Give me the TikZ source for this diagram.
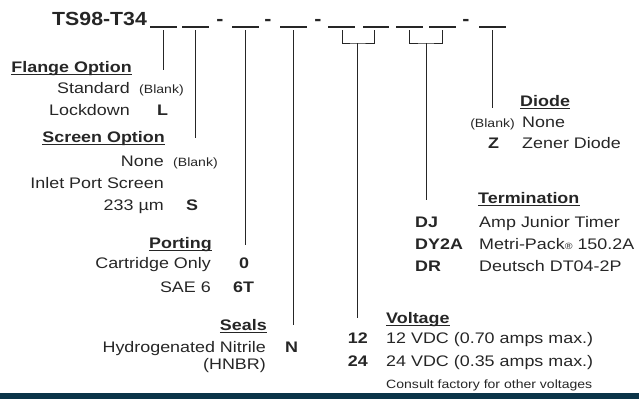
\documentclass[tikz,border=0pt]{standalone}
\usepackage{fontspec}
\setmainfont{Liberation Sans}
\definecolor{ink}{RGB}{38,38,38}
\definecolor{barblue}{RGB}{11,52,72}
\tikzset{
  lbl/.style={inner sep=0pt, text=ink, xscale=1.17, font=\fontsize{15.3}{18}\selectfont},
  code/.style={lbl, font=\fontsize{15.3}{18}\selectfont\bfseries},
  head/.style={code},
  small/.style={lbl, font=\fontsize{12}{14}\selectfont},
  ttl/.style={inner sep=0pt, text=ink, xscale=1.12, font=\fontsize{19}{22}\selectfont\bfseries},
  wire/.style={draw=ink, line width=0.9pt},
  blank/.style={draw=ink, line width=1.2pt},
  uline/.style={draw=ink, line width=1pt},
}
\begin{document}
\begin{tikzpicture}[x=1pt, y=-1pt]
\useasboundingbox (0,0) rectangle (639,399);

% Part number with blanks
\node[ttl, anchor=base west] (pn) at (52,25) {TS98-T34};
\foreach \a/\b in {150/177, 182/209, 232/259, 280/307, 328/355, 363/389, 396/423, 429/456, 479/506}
    \draw[blank] (\a,27) -- (\b,27);
\foreach \x [count=\i] in {220, 268, 318, 466}
    \node[ttl, anchor=base] (dash\i) at (\x,25) {-};

% Connector ends
\coordinate (tfl) at (163.5,30);  \coordinate (efl) at (163.5,70);
\coordinate (tsc) at (195.5,30);  \coordinate (esc) at (195.5,138);
\coordinate (tpo) at (245.5,30);  \coordinate (epo) at (245.5,245);
\coordinate (tse) at (293.5,30);  \coordinate (ese) at (293.5,325);
\coordinate (tdi) at (492.5,30);  \coordinate (edi) at (492.5,108);
\coordinate (va) at (342,30);  \coordinate (vb) at (374,30);
\coordinate (vm) at (357,43);  \coordinate (evo) at (357,318);
\coordinate (ta) at (409.5,30);  \coordinate (tb) at (442.5,30);
\coordinate (tm) at (426,43);  \coordinate (ete) at (426,200);

\draw[wire] (tfl) -- (efl);
\draw[wire] (tsc) -- (esc);
\draw[wire] (tpo) -- (epo);
\draw[wire] (tse) -- (ese);
\draw[wire] (tdi) -- (edi);
\draw[wire] (va) |- (vm) -| (vb);
\draw[wire] (vm) -- (evo);
\draw[wire] (ta) |- (tm) -| (tb);
\draw[wire] (tm) -- (ete);

% Flange option
\node[head, anchor=base east] (fl) at (132,72) {Flange Option};
\node[lbl, anchor=base east] (fl1) at (130,93) {Standard};
\node[small, anchor=base west] (fl1c) at (139,93) {(Blank)};
\node[lbl, anchor=base east] (fl2) at (130,115) {Lockdown};
\node[code, anchor=base west] (fl2c) at (157,115) {L};

% Screen option
\node[head, anchor=base east] (sc) at (165,142) {Screen Option};
\node[lbl, anchor=base east] (sc1) at (164,166) {None};
\node[small, anchor=base west] (sc1c) at (173,166) {(Blank)};
\node[lbl, anchor=base east] (sc2) at (164,188) {Inlet Port Screen};
\node[lbl, anchor=base east] (sc3) at (164,210) {233 µm};
\node[code, anchor=base west] (sc3c) at (186,210) {S};

% Porting
\node[head, anchor=base east] (po) at (212,248) {Porting};
\node[lbl, anchor=base east] (po1) at (211,268) {Cartridge Only};
\node[code, anchor=base west] (po1c) at (239,268) {0};
\node[lbl, anchor=base east] (po2) at (211,292) {SAE 6};
\node[code, anchor=base west] (po2c) at (233,292) {6T};

% Seals
\node[head, anchor=base east] (se) at (267,330) {Seals};
\node[lbl, anchor=base east] (se1) at (266,352) {Hydrogenated Nitrile};
\node[code, anchor=base west] (se1c) at (285,352) {N};
\node[lbl, anchor=base east] (se2) at (266,369) {(HNBR)};

% Voltage
\node[head, anchor=base west] (vo) at (386,323) {Voltage};
\node[code, anchor=base east] (vo1c) at (368,343) {12};
\node[lbl, anchor=base west] (vo1) at (386,343) {12 VDC (0.70 amps max.)};
\node[code, anchor=base east] (vo2c) at (368,366) {24};
\node[lbl, anchor=base west] (vo2) at (386,366) {24 VDC (0.35 amps max.)};
\node[small, anchor=base west] (vo3) at (386,388) {Consult factory for other voltages};

% Termination
\node[head, anchor=base west] (te) at (478,203) {Termination};
\node[code, anchor=base west] (te1c) at (415,227) {DJ};
\node[lbl, anchor=base west] (te1) at (479,227) {Amp Junior Timer};
\node[code, anchor=base west] (te2c) at (415,249) {DY2A};
\node[lbl, anchor=base west] (te2) at (479,249) {Metri-Pack{\fontsize{9}{9}\selectfont ®} 150.2A};
\node[code, anchor=base west] (te3c) at (415,271) {DR};
\node[lbl, anchor=base west] (te3) at (479,271) {Deutsch DT04-2P};

% Diode
\node[head, anchor=base west] (di) at (520,106) {Diode};
\node[small, anchor=base east] (di1c) at (515,127) {(Blank)};
\node[lbl, anchor=base west] (di1) at (522,127) {None};
\node[code, anchor=base west] (di2c) at (488,148) {Z};
\node[lbl, anchor=base west] (di2) at (522,148) {Zener Diode};

% Heading underlines
\foreach \h in {fl, sc, po, se, vo, te, di}
    \draw[uline] ([yshift=-2.5pt]\h.base west) -- ([yshift=-2.5pt]\h.base east);

% Bottom bar
\fill[barblue] (0,393) rectangle (639,399);
\end{tikzpicture}
\end{document}
